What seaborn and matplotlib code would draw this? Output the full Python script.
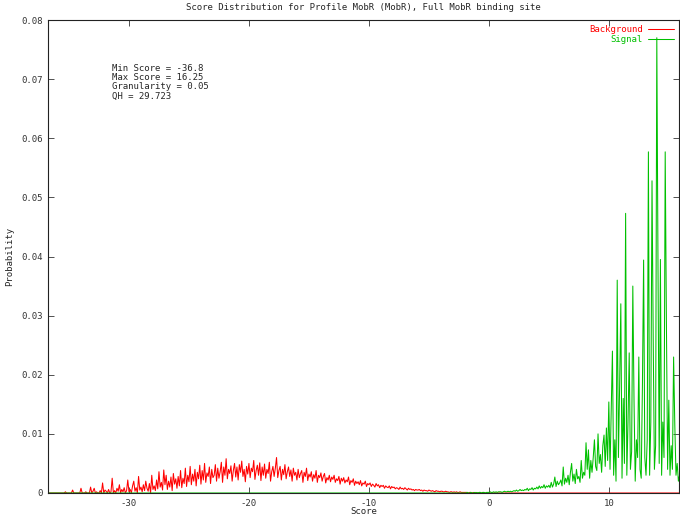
import numpy as np
import pandas as pd
import matplotlib
matplotlib.use("Agg")
import matplotlib.pyplot as plt
import seaborn as sns

# %%
title = "Score Distribution for Profile MobR (MobR), Full MobR binding site"
info_lines = ["Min Score = -36.8", "Max Score = 16.25", "Granularity = 0.05", "QH = 29.723"]

step = 0.1
grid_start, grid_end = -36.8, 16.2

# background probability (x 1e-4), scores -35.4 .. 0.0
bg_start = -35.4
background = [
    0, 2, 0, 0, 0,
    0, 0, 5, 0, 0, 0, 0, 0, 0, 8,
    0, 0, 0, 2, 0, 0, 0, 10, 0, 3,
    8, 0, 2, 0, 0, 4, 0, 17, 0, 5,
    3, 0, 6, 0, 2, 25, 0, 4, 0, 8,
    3, 14, 0, 6, 2, 9, 0, 4, 22, 2,
    6, 0, 12, 20, 3, 9, 0, 28, 5, 10,
    2, 14, 4, 20, 8, 3, 16, 0, 30, 6,
    12, 4, 22, 7, 36, 10, 18, 5, 39, 14,
    30, 6, 20, 10, 27, 4, 33, 15, 24, 8,
    28, 12, 38, 9, 25, 16, 42, 11, 30, 19,
    45, 14, 32, 20, 40, 12, 35, 24, 47, 15,
    38, 22, 50, 18, 34, 28, 44, 16, 40, 26,
    30, 48, 20, 42, 25, 36, 52, 18, 44, 30,
    58, 24, 40, 33, 46, 20, 38, 50, 27, 44,
    22, 48, 35, 54, 28, 40, 19, 45, 32, 50,
    26, 42, 36, 55, 23, 38, 47, 30, 51, 21,
    44, 30, 49, 25, 40, 33, 52, 20, 36, 45,
    28, 42, 60, 26, 38, 45, 22, 40, 31, 48,
    24, 36, 44, 28, 39, 20, 42, 30, 35, 22,
    40, 26, 33, 38, 18, 35, 28, 42, 21, 32,
    27, 36, 20, 31, 25, 38, 18, 30, 26, 34,
    20, 28, 33, 17, 26, 22, 30, 19, 27, 23,
    30, 18, 24, 21, 28, 15, 25, 20, 26, 17,
    22, 19, 27, 14, 21, 18, 24, 13, 20, 16,
    19, 14, 21, 12, 17, 15, 20, 11, 16, 14,
    17, 11, 15, 13, 10, 16, 12, 14, 9, 13,
    11, 13, 8, 12, 10, 9, 12, 7, 11, 9,
    10, 7, 9, 8, 6, 10, 7, 8, 6, 9,
    7, 5, 8, 6, 7, 5, 6, 4, 6, 5,
    5, 6, 4, 5, 3, 5, 4, 4, 3, 5,
    4, 3, 4, 3, 2, 4, 3, 3, 2, 3,
    3, 2, 2, 3, 2, 2, 1, 2, 2, 1,
    2, 1, 2, 1, 1, 2, 1, 1, 1, 1,
    1, 1, 0, 1, 1, 0, 1, 0, 1, 0,
    0, 1, 0, 0, 1, 0, 0, 0, 0, 0,
]

# signal probability (x 1e-4), scores -2.0 .. 16.2
sig_start = -2.0
signal = [
    0, 0, 1, 0, 0, 1, 0, 0, 1, 0,
    1, 0, 1, 1, 0, 1, 1, 0, 1, 1,
    1, 2, 1, 1, 2, 1, 2, 1, 2, 2,
    2, 1, 2, 3, 2, 2, 3, 2, 3, 2,
    3, 4, 3, 5, 3, 4, 6, 4, 5, 4,
    6, 5, 8, 4, 7, 6, 9, 5, 8, 7,
    10, 7, 12, 8, 11, 9, 14, 8, 12, 10,
    13, 9, 18, 10, 15, 27, 11, 20, 14, 17,
    22, 12, 44, 15, 25, 18, 30, 14, 35, 50,
    20, 32, 16, 40, 24, 28, 18, 55, 25, 35,
    30, 85, 40, 73, 25, 55, 35, 60, 90, 45,
    38, 100, 50, 65, 35, 80, 98, 45, 110, 55,
    154, 40, 140, 240, 30, 90, 20, 360, 60, 180,
    320, 25, 160, 50, 473, 30, 120, 237, 40, 70,
    350, 157, 20, 90, 60, 230, 40, 25, 180, 394,
    60, 30, 90, 577, 30, 120, 528, 260, 40, 80,
    770, 380, 50, 395, 30, 120, 60, 577, 290, 40,
    157, 30, 80, 40, 230, 115, 30, 50, 20, 30,
    30, 10, 0,
]

# %%
def on_grid(values, start):
    n = int(round((grid_end - grid_start) / step)) + 1
    out = np.zeros(n)
    i0 = int(round((start - grid_start) / step))
    out[i0:i0 + len(values)] = np.array(values) * 1e-4
    return out

scores = np.round(grid_start + step * np.arange(int(round((grid_end - grid_start) / step)) + 1), 2)
df = pd.DataFrame({
    "score": scores,
    "Background": on_grid(background, bg_start),
    "Signal": on_grid(signal, sig_start),
})

# %%
sns.set_style("ticks")
plt.rcParams["font.family"] = ["DejaVu Sans Mono"]
plt.rcParams["font.size"] = 6.5
plt.rcParams["axes.unicode_minus"] = False

fig = plt.figure(figsize=(6.8, 5.17), dpi=100)
ax = fig.add_axes([48 / 680, 24 / 517, 631 / 680, 473 / 517])

sns.lineplot(data=df, x="score", y="Background", color="#ff0000", linewidth=0.75,
             estimator=None, ax=ax, label="Background")
sns.lineplot(data=df, x="score", y="Signal", color="#00c000", linewidth=0.75,
             estimator=None, ax=ax, label="Signal")

ax.set_xlim(-36.75, 15.85)
ax.set_ylim(0, 0.08)
ax.set_xticks([-30, -20, -10, 0, 10])
ax.set_yticks(np.arange(0, 0.081, 0.01))
ax.set_yticklabels(["0"] + [f"{v:.2f}" for v in np.arange(0.01, 0.081, 0.01)])
ax.tick_params(direction="in", length=4, width=0.6, top=True, right=True,
               labelsize=6.5, pad=4, colors="#333333")
for s in ax.spines.values():
    s.set_linewidth(0.8)
    s.set_color("#222222")

ax.set_xlabel("Score", fontsize=6.5)
ax.set_ylabel("Probability", fontsize=6.5)
ax.xaxis.set_label_coords(0.5, -14 / 473)
ax.yaxis.set_label_coords(-34 / 631, 0.5)
ax.set_title(title, fontsize=6.5, pad=7)

ax.text(-31.4, 0.0726, "\n".join(info_lines), fontsize=6.5, va="top", ha="left",
        linespacing=1.05)

leg = ax.legend(loc="upper right", frameon=False, fontsize=6.5, markerfirst=False,
                handlelength=2.8, borderaxespad=0.2, labelspacing=0.1, handletextpad=0.6)
for t, c in zip(leg.get_texts(), ["#ff0000", "#00c000"]):
    t.set_color(c)

fig.savefig("out.png", dpi=100)
